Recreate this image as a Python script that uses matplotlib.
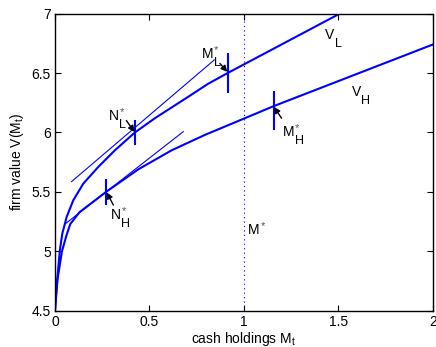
import numpy as np
import matplotlib
matplotlib.use('Agg')
import matplotlib.pyplot as plt

plt.rcParams['font.family'] = ['Liberation Sans', 'DejaVu Sans']
plt.rcParams['mathtext.default'] = 'regular'
plt.rcParams['font.size'] = 10

# value function, low-volatility firm
vl_x = [0.0, 0.004, 0.012, 0.026, 0.039, 0.062, 0.097, 0.15, 0.229, 0.317, 0.423,
        0.529, 0.705, 0.811, 0.914, 1.508]
vl_y = [4.5, 4.6, 4.76, 5.01, 5.15, 5.29, 5.43, 5.57, 5.71, 5.85, 6.0,
        6.12, 6.30, 6.41, 6.5, 7.0]

# value function, high-volatility firm
vh_x = [0.0, 0.005, 0.014, 0.037, 0.06, 0.081, 0.13, 0.196, 0.27, 0.441, 0.617,
        0.794, 1.005, 1.155, 2.0]
vh_y = [4.5, 4.6, 4.77, 5.0, 5.13, 5.23, 5.33, 5.41, 5.5, 5.69, 5.85,
        5.98, 6.12, 6.22, 6.74]

# tangent lines at N_L* and N_H*
tan_l_x = [0.088, 0.843]
tan_l_y = [5.587, 6.61]
tan_h_x = [0.053, 0.679]
tan_h_y = [5.23, 6.007]

# thresholds: (x, ymin, ymax)
marks = {
    'NL': (0.423, 5.90, 6.10),
    'ML': (0.914, 6.34, 6.66),
    'NH': (0.272, 5.40, 5.60),
    'MH': (1.157, 6.03, 6.34),
}
m_star = 1.0

fig = plt.figure(figsize=(4.36, 3.47), dpi=100)
ax = fig.add_axes([0.126, 0.104, 0.867, 0.857])

blue = '#0000ff'
ax.plot(vl_x, vl_y, color=blue, lw=1.5)
ax.plot(vh_x, vh_y, color=blue, lw=1.5)
ax.plot(tan_l_x, tan_l_y, color=blue, lw=0.8)
ax.plot(tan_h_x, tan_h_y, color=blue, lw=0.8)
for k, (x0, y0, y1) in marks.items():
    ax.plot([x0, x0], [y0, y1], color=blue, lw=1.5)
ax.plot([m_star, m_star], [4.5, 7.0], color=blue, lw=0.8, ls=(0, (1, 3)))


def label(x, y, main, sub=None, star=False):
    # matlab-style label: big subscript, small star
    t = ax.text(x, y, main, ha='left', va='baseline', fontsize=10)
    if sub:
        ax.annotate(sub, xy=(1, 0), xycoords=t, xytext=(0.3, -3.4),
                    textcoords='offset points', fontsize=9, va='baseline', ha='left')
    if star:
        ax.annotate('*', xy=(1, 1), xycoords=t, xytext=(0.6, 1.5),
                    textcoords='offset points', fontsize=8, va='top', ha='left',
                    color='#555555')


arrow = dict(arrowstyle='-|>', color='k', lw=1.0, mutation_scale=9, shrinkA=0, shrinkB=0)
label(0.286, 6.105, 'N', 'L', True)
ax.annotate('', xy=(0.421, 6.005), xytext=(0.378, 6.10), arrowprops=arrow)
label(0.776, 6.624, 'M', 'L', True)
ax.annotate('', xy=(0.912, 6.51), xytext=(0.873, 6.58), arrowprops=arrow)
label(1.205, 5.97, 'M', 'H', True)
ax.annotate('', xy=(1.159, 6.215), xytext=(1.199, 6.12), arrowprops=arrow)
label(0.296, 5.27, 'N', 'H', True)
ax.annotate('', xy=(0.274, 5.497), xytext=(0.309, 5.39), arrowprops=arrow)
label(1.023, 5.147, 'M', None, True)
label(1.429, 6.786, 'V', 'L')
label(1.57, 6.307, 'V', 'H')

ax.set_xlim(0, 2)
ax.set_ylim(4.5, 7)
ax.set_xticks([0, 0.5, 1, 1.5, 2])
ax.set_xticklabels(['0', '0.5', '1', '1.5', '2'])
ax.set_yticks([4.5, 5, 5.5, 6, 6.5, 7])
ax.set_yticklabels(['4.5', '5', '5.5', '6', '6.5', '7'])
ax.tick_params(direction='in', top=True, right=True, length=4, width=0.8, pad=3)
for s in ax.spines.values():
    s.set_linewidth(1.0)
ax.set_xlabel('cash holdings M$_t$', labelpad=1)
ax.set_ylabel('firm value V(M$_t$)', labelpad=4)

fig.savefig('out.png', dpi=100)
